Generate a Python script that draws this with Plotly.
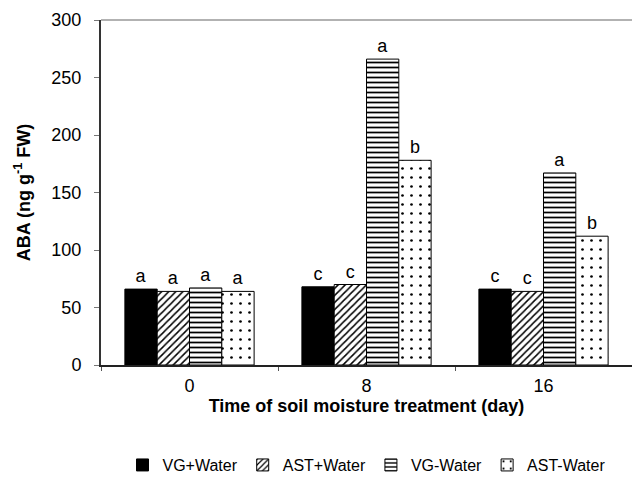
import plotly.graph_objects as go

days = ["0", "8", "16"]
series = ["VG+Water", "AST+Water", "VG-Water", "AST-Water"]
vg_water_plus = [66, 68, 66]
ast_water_plus = [64, 70, 64]
vg_water_minus = [67, 266, 167]
ast_water_minus = [64, 178, 112]
letters_vg_plus = ["a", "c", "c"]
letters_ast_plus = ["a", "c", "c"]
letters_vg_minus = ["a", "a", "a"]
letters_ast_minus = ["a", "b", "b"]

values = [vg_water_plus, ast_water_plus, vg_water_minus, ast_water_minus]
letters = [letters_vg_plus, letters_ast_plus, letters_vg_minus, letters_ast_minus]
patterns = [
    dict(shape="", fillmode="replace"),
    dict(shape="/", fgcolor="black", bgcolor="white", size=5, solidity=0.3, fillmode="replace"),
    dict(shape="-", fgcolor="black", bgcolor="white", size=5, solidity=0.35, fillmode="replace"),
    dict(shape=".", fgcolor="black", bgcolor="white", size=9, solidity=0.07, fillmode="replace"),
]
colors = ["black", "white", "white", "white"]

FONT = "Liberation Sans, Arial, sans-serif"

fig = go.Figure()
for name, vals, lets, pat, col in zip(series, values, letters, patterns, colors):
    fig.add_trace(go.Bar(
        x=days, y=vals, name=name,
        text=lets, textposition="outside", cliponaxis=False,
        textfont=dict(size=18, color="black", family=FONT),
        marker=dict(color=col, pattern=pat, line=dict(color="black", width=1)),
    ))

fig.update_layout(
    width=632, height=477,
    margin=dict(l=101, r=0, t=20, b=112, autoexpand=False),
    paper_bgcolor="white", plot_bgcolor="white",
    barmode="group", bargap=0.27, bargroupgap=0,
    font=dict(family=FONT, size=16, color="black"),
    xaxis=dict(
        type="category", showline=True, linecolor="#222", linewidth=1.5,
        ticks="outside", tickson="boundaries", ticklen=4, tickcolor="#555",
        tickfont=dict(size=18), automargin=False, ticklabelstandoff=4,
        title=dict(text="<b>Time of soil moisture treatment (day)</b>", font=dict(size=18), standoff=4),
    ),
    yaxis=dict(
        range=[0, 300], tickvals=[0, 50, 100, 150, 200, 250, 300],
        showline=True, linecolor="#333", linewidth=2,
        ticks="outside", ticklen=5, tickcolor="#777",
        showgrid=False, zeroline=False, automargin=False,
        tickfont=dict(size=18), ticklabelstandoff=9,
        title=dict(text="<b>ABA (ng g<sup>-1</sup> FW)</b>", font=dict(size=18), standoff=16),
    ),
    legend=dict(
        orientation="h", x=0.5, xanchor="center", y=-0.29, yanchor="middle",
        font=dict(size=16), itemwidth=30, traceorder="normal",
    ),
    shapes=[dict(type="line", xref="paper", yref="y domain", x0=0, x1=1, y0=1, y1=1,
                 line=dict(color="#999", width=1.5))],
)

fig.write_html(
    "out.html",
    config={"displayModeBar": False},
    post_script="document.body.style.margin='0';document.body.style.padding='0';",
)
